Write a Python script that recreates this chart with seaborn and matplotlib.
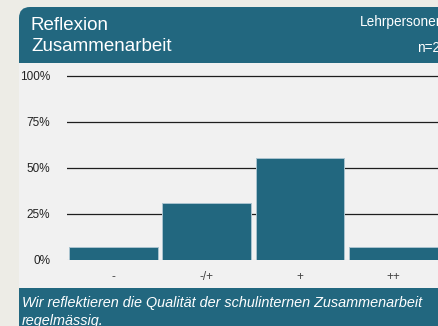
import matplotlib
matplotlib.use("Agg")
import matplotlib.pyplot as plt
from matplotlib.patches import FancyBboxPatch, Rectangle
from matplotlib.transforms import Affine2D
import seaborn as sns
import pandas as pd

# Survey answers (share of respondents, in percent)
categories = ["-", "-/+", "+", "++"]
shares = [6.9, 31.0, 55.2, 6.9]
y_ticks = [0, 25, 50, 75, 100]
y_tick_labels = ["0%", "25%", "50%", "75%", "100%"]

title_lines = ["Reflexion", "Zusammenarbeit"]
group_label = "Lehrpersonen"
n_label = "n=29"
statement = "Wir reflektieren die Qualität der schulinternen Zusammenarbeit\nregelmässig."

TEAL = "#22677f"
PANEL = "#f1f1f1"
OUTER = "#edece6"

W, H = 439, 326
plt.rcParams["font.family"] = ["Liberation Sans", "DejaVu Sans"]

fig = plt.figure(figsize=(W / 100, H / 100), dpi=100)
fig.patch.set_facecolor(OUTER)

# pixel coordinates measured from the top-left corner
px = Affine2D().scale(1, -1).translate(0, H)

card = FancyBboxPatch((19, 7), 460, 360, boxstyle="round,pad=0,rounding_size=11",
                      facecolor=PANEL, edgecolor="none", transform=px, zorder=-3)
fig.add_artist(card)
header = FancyBboxPatch((19, 7), 460, 56, boxstyle="round,pad=0,rounding_size=11",
                        facecolor=TEAL, edgecolor="none", transform=px, zorder=-2)
fig.add_artist(header)
header_fill = Rectangle((19, 40), 460, 23, facecolor=TEAL, edgecolor="none",
                        transform=px, zorder=-2)
fig.add_artist(header_fill)
footer = Rectangle((19, 288), 460, 40, facecolor=TEAL, edgecolor="none",
                   transform=px, zorder=-2)
fig.add_artist(footer)

fig.text(31 / W, 1 - 25 / H, title_lines[0], color="white", fontsize=13.5,
         ha="left", va="center")
fig.text(31 / W, 1 - 46.5 / H, title_lines[1], color="white", fontsize=13.5,
         ha="left", va="center")
fig.text(360 / W, 1 - 22 / H, group_label, color="white", fontsize=9.8,
         ha="left", va="center")
fig.text(417 / W, 1 - 48 / H, n_label, color="white", fontsize=9.8,
         ha="left", va="center")
fig.text(22 / W, 1 - 312 / H, statement, color="white", fontsize=10.4,
         style="italic", ha="left", va="center", linespacing=1.3)

# plot area: 0% at y=260 px, 100% at y≈75.7 px
y0, unit = 260.0, 1.843
ymax = 102
top = y0 - ymax * unit
x_left, x_right = 66.8, 440.0
ax = fig.add_axes([x_left / W, 1 - y0 / H, (x_right - x_left) / W, (y0 - top) / H])
ax.set_facecolor("none")

df = pd.DataFrame({"Antwort": categories, "Anteil": shares})
sns.barplot(data=df, x="Antwort", y="Anteil", color=TEAL, width=0.95,
            edgecolor="#a9c3cf", linewidth=0.7, saturation=1, ax=ax, zorder=3)

for t in y_ticks[1:]:
    ax.axhline(t, color="#1e1e1e", lw=0.9, zorder=1)
ax.axhline(0, color="#d4d4d4", lw=0.9, zorder=1)

ax.set_xlim(-0.5, 3.5)
ax.set_ylim(0, ymax)
ax.set_yticks(y_ticks)
ax.set_yticklabels(y_tick_labels)
ax.tick_params(axis="both", length=0, labelsize=8.5, labelcolor="#222222")
ax.tick_params(axis="y", pad=12)
ax.tick_params(axis="x", pad=8, labelcolor="#444444")
ax.set_xlabel("")
ax.set_ylabel("")
for s in ax.spines.values():
    s.set_visible(False)

fig.savefig("out.png", dpi=100, facecolor=OUTER)
